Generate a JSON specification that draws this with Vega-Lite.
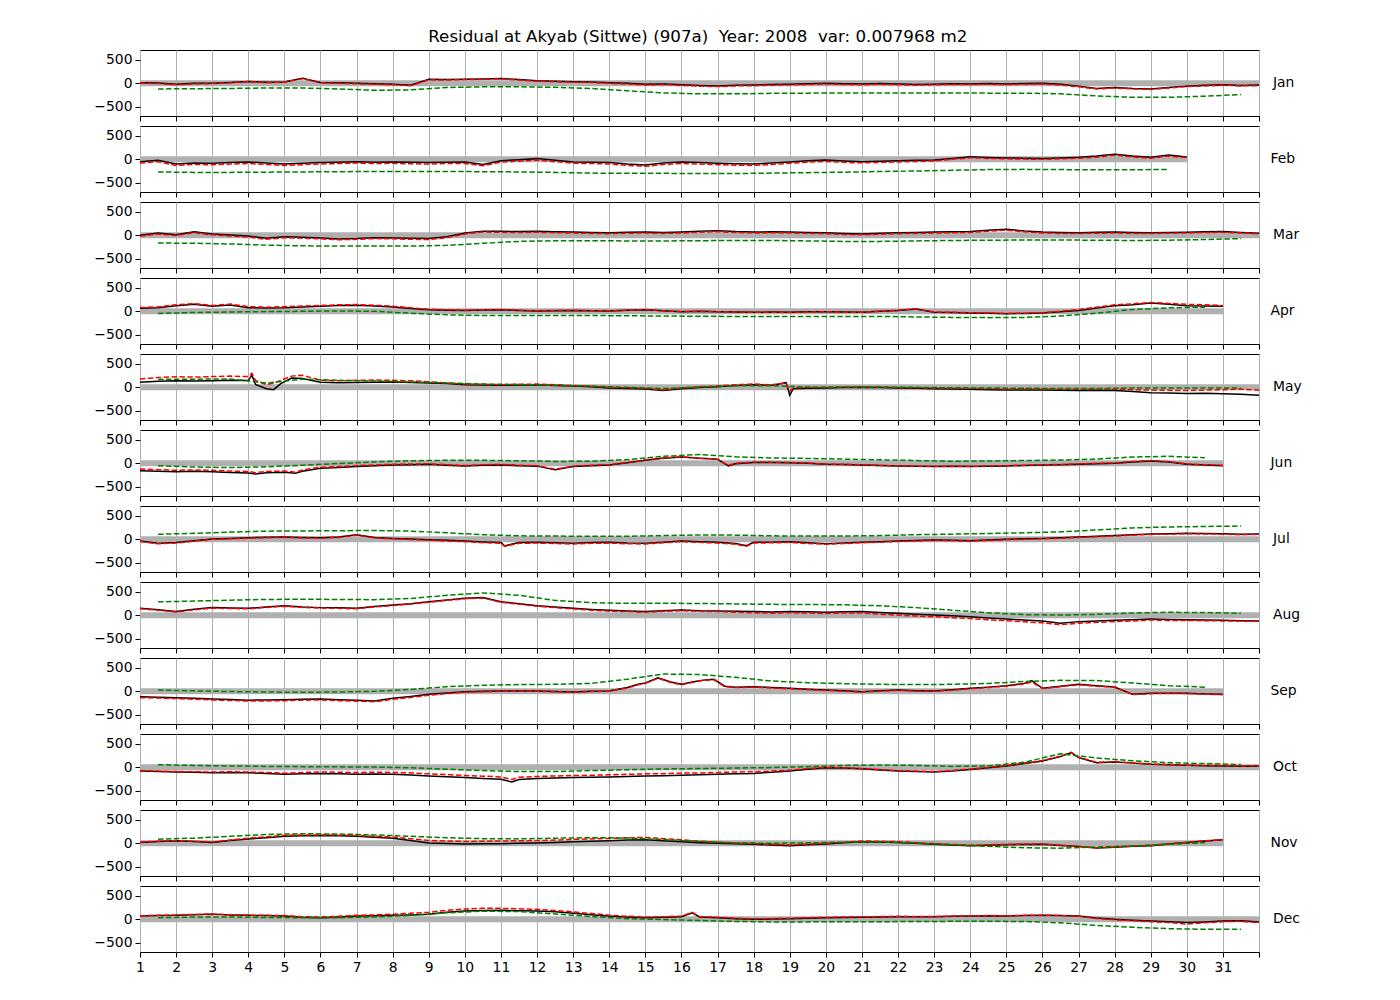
{
"$schema": "https://vega.github.io/schema/vega-lite/v6.json",
"padding": {"left": 93, "top": 28, "right": 5, "bottom": 5},
"background": "white",
"title": {"text": "Residual at Akyab (Sittwe) (907a) \u00a0Year: 2008 \u00a0var: 0.007968 m2", "fontSize": 16.7, "anchor": "middle", "offset": 4, "fontWeight": "normal", "color": "black"},
"config": {
  "font": "DejaVu Sans",
  "view": {"stroke": "black", "strokeWidth": 1},
  "title": {"font": "DejaVu Sans", "fontWeight": "normal", "color": "black"},
  "axis": {"labelFont": "DejaVu Sans", "labelFontSize": 13.9, "labelColor": "black", "tickColor": "black", "tickSize": 5, "labelPadding": 3, "domain": false, "title": null, "labelOverlap": false, "labelFlush": false},
  "axisX": {"grid": true, "gridColor": "#b0b0b0", "gridWidth": 1},
  "axisY": {"grid": false}
},
"datasets": {
"z": [{"m":1,"a":1,"b":32},{"m":2,"a":1,"b":30},{"m":3,"a":1,"b":32},{"m":4,"a":1,"b":31},{"m":5,"a":1,"b":32},{"m":6,"a":1,"b":31},{"m":7,"a":1,"b":32},{"m":8,"a":1,"b":32},{"m":9,"a":1,"b":31},{"m":10,"a":1,"b":32},{"m":11,"a":1,"b":31},{"m":12,"a":1,"b":32}],
"g": [
{"m":1,"x":1.5,"g":-120},{"m":1,"x":2.5,"g":-115},{"m":1,"x":3.5,"g":-110},{"m":1,"x":4.5,"g":-100},{"m":1,"x":5.5,"g":-100},{"m":1,"x":6.5,"g":-120},{"m":1,"x":7.5,"g":-150},{"m":1,"x":8.5,"g":-140},{"m":1,"x":9.5,"g":-90},{"m":1,"x":10.5,"g":-75},{"m":1,"x":11.5,"g":-75},{"m":1,"x":12.5,"g":-85},{"m":1,"x":13.5,"g":-110},{"m":1,"x":14.5,"g":-160},{"m":1,"x":15.5,"g":-205},{"m":1,"x":16.5,"g":-225},{"m":1,"x":17.5,"g":-225},{"m":1,"x":18.5,"g":-215},{"m":1,"x":19.5,"g":-210},{"m":1,"x":20.5,"g":-205},{"m":1,"x":21.5,"g":-205},{"m":1,"x":22.5,"g":-205},{"m":1,"x":23.5,"g":-205},{"m":1,"x":24.5,"g":-210},{"m":1,"x":25.5,"g":-210},{"m":1,"x":26.5,"g":-225},{"m":1,"x":27.5,"g":-270},{"m":1,"x":28.5,"g":-300},{"m":1,"x":29.5,"g":-300},{"m":1,"x":30.5,"g":-275},{"m":1,"x":31.5,"g":-240},
{"m":2,"x":1.5,"g":-270},{"m":2,"x":2.5,"g":-280},{"m":2,"x":3.5,"g":-280},{"m":2,"x":4.5,"g":-275},{"m":2,"x":5.5,"g":-270},{"m":2,"x":6.5,"g":-265},{"m":2,"x":7.5,"g":-260},{"m":2,"x":8.5,"g":-260},{"m":2,"x":9.5,"g":-260},{"m":2,"x":10.5,"g":-265},{"m":2,"x":11.5,"g":-270},{"m":2,"x":12.5,"g":-280},{"m":2,"x":13.5,"g":-295},{"m":2,"x":14.5,"g":-300},{"m":2,"x":15.5,"g":-300},{"m":2,"x":16.5,"g":-305},{"m":2,"x":17.5,"g":-305},{"m":2,"x":18.5,"g":-295},{"m":2,"x":19.5,"g":-285},{"m":2,"x":20.5,"g":-275},{"m":2,"x":21.5,"g":-260},{"m":2,"x":22.5,"g":-250},{"m":2,"x":23.5,"g":-235},{"m":2,"x":24.5,"g":-220},{"m":2,"x":25.5,"g":-215},{"m":2,"x":26.5,"g":-220},{"m":2,"x":27.5,"g":-225},{"m":2,"x":28.5,"g":-225},{"m":2,"x":29.5,"g":-215},
{"m":3,"x":1.5,"g":-165},{"m":3,"x":2.5,"g":-170},{"m":3,"x":3.5,"g":-185},{"m":3,"x":4.5,"g":-210},{"m":3,"x":5.5,"g":-225},{"m":3,"x":6.5,"g":-230},{"m":3,"x":7.5,"g":-230},{"m":3,"x":8.5,"g":-230},{"m":3,"x":9.5,"g":-215},{"m":3,"x":10.5,"g":-170},{"m":3,"x":11.5,"g":-130},{"m":3,"x":12.5,"g":-115},{"m":3,"x":13.5,"g":-115},{"m":3,"x":14.5,"g":-120},{"m":3,"x":15.5,"g":-120},{"m":3,"x":16.5,"g":-115},{"m":3,"x":17.5,"g":-110},{"m":3,"x":18.5,"g":-110},{"m":3,"x":19.5,"g":-120},{"m":3,"x":20.5,"g":-130},{"m":3,"x":21.5,"g":-130},{"m":3,"x":22.5,"g":-120},{"m":3,"x":23.5,"g":-110},{"m":3,"x":24.5,"g":-105},{"m":3,"x":25.5,"g":-100},{"m":3,"x":26.5,"g":-100},{"m":3,"x":27.5,"g":-105},{"m":3,"x":28.5,"g":-110},{"m":3,"x":29.5,"g":-105},{"m":3,"x":30.5,"g":-90},{"m":3,"x":31.5,"g":-70},
{"m":4,"x":1.5,"g":-45},{"m":4,"x":2.5,"g":-25},{"m":4,"x":3.5,"g":-15},{"m":4,"x":4.5,"g":-5},{"m":4,"x":5.5,"g":0},{"m":4,"x":6.5,"g":10},{"m":4,"x":7.5,"g":0},{"m":4,"x":8.5,"g":-40},{"m":4,"x":9.5,"g":-75},{"m":4,"x":10.5,"g":-90},{"m":4,"x":11.5,"g":-90},{"m":4,"x":12.5,"g":-90},{"m":4,"x":13.5,"g":-90},{"m":4,"x":14.5,"g":-95},{"m":4,"x":15.5,"g":-100},{"m":4,"x":16.5,"g":-105},{"m":4,"x":17.5,"g":-110},{"m":4,"x":18.5,"g":-110},{"m":4,"x":19.5,"g":-110},{"m":4,"x":20.5,"g":-110},{"m":4,"x":21.5,"g":-110},{"m":4,"x":22.5,"g":-120},{"m":4,"x":23.5,"g":-130},{"m":4,"x":24.5,"g":-135},{"m":4,"x":25.5,"g":-130},{"m":4,"x":26.5,"g":-100},{"m":4,"x":27.5,"g":-40},{"m":4,"x":28.5,"g":40},{"m":4,"x":29.5,"g":75},{"m":4,"x":30.5,"g":90},
{"m":5,"x":1.5,"g":170},{"m":5,"x":2.5,"g":175},{"m":5,"x":3.5,"g":180},{"m":5,"x":4.5,"g":90},{"m":5,"x":5.5,"g":175},{"m":5,"x":6.5,"g":150},{"m":5,"x":7.5,"g":135},{"m":5,"x":8.5,"g":115},{"m":5,"x":9.5,"g":95},{"m":5,"x":10.5,"g":70},{"m":5,"x":11.5,"g":60},{"m":5,"x":12.5,"g":45},{"m":5,"x":13.5,"g":25},{"m":5,"x":14.5,"g":0},{"m":5,"x":15.5,"g":-25},{"m":5,"x":16.5,"g":5},{"m":5,"x":17.5,"g":35},{"m":5,"x":18.5,"g":35},{"m":5,"x":19.5,"g":5},{"m":5,"x":20.5,"g":0},{"m":5,"x":21.5,"g":5},{"m":5,"x":22.5,"g":0},{"m":5,"x":23.5,"g":-10},{"m":5,"x":24.5,"g":-15},{"m":5,"x":25.5,"g":-20},{"m":5,"x":26.5,"g":-25},{"m":5,"x":27.5,"g":-25},{"m":5,"x":28.5,"g":-15},{"m":5,"x":29.5,"g":-15},{"m":5,"x":30.5,"g":-15},{"m":5,"x":31.5,"g":-15},
{"m":6,"x":1.5,"g":-50},{"m":6,"x":2.5,"g":-80},{"m":6,"x":3.5,"g":-90},{"m":6,"x":4.5,"g":-75},{"m":6,"x":5.5,"g":-40},{"m":6,"x":6.5,"g":-5},{"m":6,"x":7.5,"g":30},{"m":6,"x":8.5,"g":55},{"m":6,"x":9.5,"g":65},{"m":6,"x":10.5,"g":65},{"m":6,"x":11.5,"g":55},{"m":6,"x":12.5,"g":40},{"m":6,"x":13.5,"g":45},{"m":6,"x":14.5,"g":80},{"m":6,"x":15.5,"g":150},{"m":6,"x":16.5,"g":190},{"m":6,"x":17.5,"g":140},{"m":6,"x":18.5,"g":115},{"m":6,"x":19.5,"g":105},{"m":6,"x":20.5,"g":90},{"m":6,"x":21.5,"g":75},{"m":6,"x":22.5,"g":60},{"m":6,"x":23.5,"g":45},{"m":6,"x":24.5,"g":50},{"m":6,"x":25.5,"g":60},{"m":6,"x":26.5,"g":70},{"m":6,"x":27.5,"g":90},{"m":6,"x":28.5,"g":135},{"m":6,"x":29.5,"g":150},{"m":6,"x":30.5,"g":120},
{"m":7,"x":1.5,"g":107},{"m":7,"x":2.5,"g":130},{"m":7,"x":3.5,"g":155},{"m":7,"x":4.5,"g":175},{"m":7,"x":5.5,"g":180},{"m":7,"x":6.5,"g":185},{"m":7,"x":7.5,"g":190},{"m":7,"x":8.5,"g":175},{"m":7,"x":9.5,"g":140},{"m":7,"x":10.5,"g":100},{"m":7,"x":11.5,"g":75},{"m":7,"x":12.5,"g":70},{"m":7,"x":13.5,"g":65},{"m":7,"x":14.5,"g":65},{"m":7,"x":15.5,"g":80},{"m":7,"x":16.5,"g":95},{"m":7,"x":17.5,"g":90},{"m":7,"x":18.5,"g":75},{"m":7,"x":19.5,"g":70},{"m":7,"x":20.5,"g":70},{"m":7,"x":21.5,"g":80},{"m":7,"x":22.5,"g":100},{"m":7,"x":23.5,"g":110},{"m":7,"x":24.5,"g":125},{"m":7,"x":25.5,"g":140},{"m":7,"x":26.5,"g":160},{"m":7,"x":27.5,"g":200},{"m":7,"x":28.5,"g":245},{"m":7,"x":29.5,"g":265},{"m":7,"x":30.5,"g":275},{"m":7,"x":31.5,"g":285},
{"m":8,"x":1.5,"g":290},{"m":8,"x":2.5,"g":305},{"m":8,"x":3.5,"g":325},{"m":8,"x":4.5,"g":340},{"m":8,"x":5.5,"g":345},{"m":8,"x":6.5,"g":340},{"m":8,"x":7.5,"g":335},{"m":8,"x":8.5,"g":360},{"m":8,"x":9.5,"g":430},{"m":8,"x":10.5,"g":480},{"m":8,"x":11.5,"g":430},{"m":8,"x":12.5,"g":320},{"m":8,"x":13.5,"g":270},{"m":8,"x":14.5,"g":257},{"m":8,"x":15.5,"g":257},{"m":8,"x":16.5,"g":255},{"m":8,"x":17.5,"g":245},{"m":8,"x":18.5,"g":235},{"m":8,"x":19.5,"g":232},{"m":8,"x":20.5,"g":225},{"m":8,"x":21.5,"g":205},{"m":8,"x":22.5,"g":165},{"m":8,"x":23.5,"g":110},{"m":8,"x":24.5,"g":55},{"m":8,"x":25.5,"g":15},{"m":8,"x":26.5,"g":5},{"m":8,"x":27.5,"g":20},{"m":8,"x":28.5,"g":50},{"m":8,"x":29.5,"g":65},{"m":8,"x":30.5,"g":60},{"m":8,"x":31.5,"g":45},
{"m":9,"x":1.5,"g":28},{"m":9,"x":2.5,"g":10},{"m":9,"x":3.5,"g":-5},{"m":9,"x":4.5,"g":-15},{"m":9,"x":5.5,"g":-20},{"m":9,"x":6.5,"g":-15},{"m":9,"x":7.5,"g":0},{"m":9,"x":8.5,"g":40},{"m":9,"x":9.5,"g":100},{"m":9,"x":10.5,"g":130},{"m":9,"x":11.5,"g":145},{"m":9,"x":12.5,"g":150},{"m":9,"x":13.5,"g":170},{"m":9,"x":14.5,"g":260},{"m":9,"x":15.5,"g":370},{"m":9,"x":16.5,"g":360},{"m":9,"x":17.5,"g":300},{"m":9,"x":18.5,"g":220},{"m":9,"x":19.5,"g":185},{"m":9,"x":20.5,"g":165},{"m":9,"x":21.5,"g":150},{"m":9,"x":22.5,"g":145},{"m":9,"x":23.5,"g":150},{"m":9,"x":24.5,"g":170},{"m":9,"x":25.5,"g":210},{"m":9,"x":26.5,"g":235},{"m":9,"x":27.5,"g":230},{"m":9,"x":28.5,"g":180},{"m":9,"x":29.5,"g":120},{"m":9,"x":30.5,"g":90},
{"m":10,"x":1.5,"g":57},{"m":10,"x":2.5,"g":40},{"m":10,"x":3.5,"g":30},{"m":10,"x":4.5,"g":20},{"m":10,"x":5.5,"g":15},{"m":10,"x":6.5,"g":10},{"m":10,"x":7.5,"g":5},{"m":10,"x":8.5,"g":-10},{"m":10,"x":9.5,"g":-40},{"m":10,"x":10.5,"g":-70},{"m":10,"x":11.5,"g":-90},{"m":10,"x":12.5,"g":-90},{"m":10,"x":13.5,"g":-70},{"m":10,"x":14.5,"g":-50},{"m":10,"x":15.5,"g":-35},{"m":10,"x":16.5,"g":-25},{"m":10,"x":17.5,"g":-15},{"m":10,"x":18.5,"g":-5},{"m":10,"x":19.5,"g":15},{"m":10,"x":20.5,"g":40},{"m":10,"x":21.5,"g":50},{"m":10,"x":22.5,"g":40},{"m":10,"x":23.5,"g":20},{"m":10,"x":24.5,"g":30},{"m":10,"x":25.5,"g":110},{"m":10,"x":26.5,"g":290},{"m":10,"x":27.5,"g":200},{"m":10,"x":28.5,"g":140},{"m":10,"x":29.5,"g":100},{"m":10,"x":30.5,"g":80},{"m":10,"x":31.5,"g":60},
{"m":11,"x":1.5,"g":90},{"m":11,"x":2.5,"g":110},{"m":11,"x":3.5,"g":150},{"m":11,"x":4.5,"g":190},{"m":11,"x":5.5,"g":205},{"m":11,"x":6.5,"g":200},{"m":11,"x":7.5,"g":180},{"m":11,"x":8.5,"g":150},{"m":11,"x":9.5,"g":120},{"m":11,"x":10.5,"g":100},{"m":11,"x":11.5,"g":95},{"m":11,"x":12.5,"g":110},{"m":11,"x":13.5,"g":120},{"m":11,"x":14.5,"g":115},{"m":11,"x":15.5,"g":80},{"m":11,"x":16.5,"g":40},{"m":11,"x":17.5,"g":10},{"m":11,"x":18.5,"g":0},{"m":11,"x":19.5,"g":10},{"m":11,"x":20.5,"g":25},{"m":11,"x":21.5,"g":30},{"m":11,"x":22.5,"g":5},{"m":11,"x":23.5,"g":-30},{"m":11,"x":24.5,"g":-65},{"m":11,"x":25.5,"g":-95},{"m":11,"x":26.5,"g":-105},{"m":11,"x":27.5,"g":-80},{"m":11,"x":28.5,"g":-55},{"m":11,"x":29.5,"g":-20},{"m":11,"x":30.5,"g":15},
{"m":12,"x":1.5,"g":35},{"m":12,"x":2.5,"g":50},{"m":12,"x":3.5,"g":50},{"m":12,"x":4.5,"g":40},{"m":12,"x":5.5,"g":35},{"m":12,"x":6.5,"g":35},{"m":12,"x":7.5,"g":50},{"m":12,"x":8.5,"g":85},{"m":12,"x":9.5,"g":140},{"m":12,"x":10.5,"g":175},{"m":12,"x":11.5,"g":165},{"m":12,"x":12.5,"g":115},{"m":12,"x":13.5,"g":60},{"m":12,"x":14.5,"g":15},{"m":12,"x":15.5,"g":-5},{"m":12,"x":16.5,"g":-25},{"m":12,"x":17.5,"g":-45},{"m":12,"x":18.5,"g":-55},{"m":12,"x":19.5,"g":-55},{"m":12,"x":20.5,"g":-50},{"m":12,"x":21.5,"g":-50},{"m":12,"x":22.5,"g":-48},{"m":12,"x":23.5,"g":-43},{"m":12,"x":24.5,"g":-43},{"m":12,"x":25.5,"g":-45},{"m":12,"x":26.5,"g":-75},{"m":12,"x":27.5,"g":-130},{"m":12,"x":28.5,"g":-170},{"m":12,"x":29.5,"g":-200},{"m":12,"x":30.5,"g":-215},{"m":12,"x":31.5,"g":-215}
],
"o": [
{"m":1,"x":1,"k":15,"r":5},{"m":1,"x":1.5,"k":5,"r":-5},{"m":1,"x":2,"k":-20,"r":-30},{"m":1,"x":2.5,"k":0,"r":-15},{"m":1,"x":3,"k":0,"r":-5},{"m":1,"x":3.5,"k":20,"r":10},{"m":1,"x":4,"k":40,"r":35},{"m":1,"x":4.5,"k":25,"r":15},{"m":1,"x":5,"k":30,"r":25},{"m":1,"x":5.5,"k":110,"r":100},{"m":1,"x":6,"k":20,"r":10},{"m":1,"x":6.5,"k":10,"r":0},{"m":1,"x":7,"k":0,"r":-10},{"m":1,"x":7.5,"k":-10,"r":-20},{"m":1,"x":8,"k":-20,"r":-30},{"m":1,"x":8.5,"k":-40,"r":-50},{"m":1,"x":9,"k":85,"r":75},{"m":1,"x":9.5,"k":80,"r":70},{"m":1,"x":10,"k":85,"r":80},{"m":1,"x":10.5,"k":95,"r":85},{"m":1,"x":11,"k":105,"r":95},{"m":1,"x":11.5,"k":80,"r":70},{"m":1,"x":12,"k":55,"r":45},{"m":1,"x":12.5,"k":45,"r":35},{"m":1,"x":13,"k":35,"r":25},{"m":1,"x":13.5,"k":30,"r":20},{"m":1,"x":14,"k":15,"r":0},{"m":1,"x":14.5,"k":0,"r":-15},{"m":1,"x":15,"k":-20,"r":-35},{"m":1,"x":15.5,"k":-15,"r":-30},{"m":1,"x":16,"k":-30,"r":-45},{"m":1,"x":16.5,"k":-45,"r":-60},{"m":1,"x":17,"k":-55,"r":-70},{"m":1,"x":17.5,"k":-40,"r":-55},{"m":1,"x":18,"k":-35,"r":-50},{"m":1,"x":18.5,"k":-25,"r":-40},{"m":1,"x":19,"k":-20,"r":-35},{"m":1,"x":19.5,"k":-10,"r":-25},{"m":1,"x":20,"k":0,"r":-15},{"m":1,"x":20.5,"k":-10,"r":-25},{"m":1,"x":21,"k":-15,"r":-30},{"m":1,"x":21.5,"k":-5,"r":-20},{"m":1,"x":22,"k":-15,"r":-30},{"m":1,"x":22.5,"k":-25,"r":-40},{"m":1,"x":23,"k":-20,"r":-30},{"m":1,"x":23.5,"k":-10,"r":-25},{"m":1,"x":24,"k":-15,"r":-25},{"m":1,"x":24.5,"k":-5,"r":-20},{"m":1,"x":25,"k":-15,"r":-30},{"m":1,"x":25.5,"k":-5,"r":-20},{"m":1,"x":26,"k":0,"r":-15},{"m":1,"x":26.5,"k":-20,"r":-35},{"m":1,"x":27,"k":-60,"r":-75},{"m":1,"x":27.5,"k":-110,"r":-120},{"m":1,"x":28,"k":-90,"r":-100},{"m":1,"x":28.5,"k":-110,"r":-120},{"m":1,"x":29,"k":-120,"r":-130},{"m":1,"x":29.5,"k":-90,"r":-100},{"m":1,"x":30,"k":-60,"r":-70},{"m":1,"x":30.5,"k":-40,"r":-55},{"m":1,"x":31,"k":-30,"r":-40},{"m":1,"x":31.5,"k":-45,"r":-55},{"m":1,"x":32,"k":-35,"r":-50},
{"m":2,"x":1,"k":-50,"r":-80},{"m":2,"x":1.5,"k":-20,"r":-50},{"m":2,"x":2,"k":-100,"r":-130},{"m":2,"x":2.5,"k":-80,"r":-110},{"m":2,"x":3,"k":-85,"r":-115},{"m":2,"x":3.5,"k":-70,"r":-100},{"m":2,"x":4,"k":-57,"r":-90},{"m":2,"x":4.5,"k":-80,"r":-110},{"m":2,"x":5,"k":-100,"r":-130},{"m":2,"x":5.5,"k":-85,"r":-115},{"m":2,"x":6,"k":-70,"r":-100},{"m":2,"x":6.5,"k":-60,"r":-90},{"m":2,"x":7,"k":-50,"r":-80},{"m":2,"x":7.5,"k":-60,"r":-90},{"m":2,"x":8,"k":-57,"r":-85},{"m":2,"x":8.5,"k":-65,"r":-95},{"m":2,"x":9,"k":-70,"r":-100},{"m":2,"x":9.5,"k":-60,"r":-90},{"m":2,"x":10,"k":-57,"r":-90},{"m":2,"x":10.5,"k":-110,"r":-140},{"m":2,"x":11,"k":-30,"r":-60},{"m":2,"x":11.5,"k":-10,"r":-40},{"m":2,"x":12,"k":15,"r":-15},{"m":2,"x":12.5,"k":-20,"r":-50},{"m":2,"x":13,"k":-57,"r":-85},{"m":2,"x":13.5,"k":-60,"r":-90},{"m":2,"x":14,"k":-70,"r":-100},{"m":2,"x":14.5,"k":-100,"r":-130},{"m":2,"x":15,"k":-120,"r":-150},{"m":2,"x":15.5,"k":-80,"r":-110},{"m":2,"x":16,"k":-57,"r":-90},{"m":2,"x":16.5,"k":-70,"r":-100},{"m":2,"x":17,"k":-85,"r":-115},{"m":2,"x":17.5,"k":-95,"r":-125},{"m":2,"x":18,"k":-100,"r":-130},{"m":2,"x":18.5,"k":-80,"r":-110},{"m":2,"x":19,"k":-57,"r":-85},{"m":2,"x":19.5,"k":-30,"r":-60},{"m":2,"x":20,"k":-15,"r":-45},{"m":2,"x":20.5,"k":-35,"r":-65},{"m":2,"x":21,"k":-50,"r":-75},{"m":2,"x":21.5,"k":-40,"r":-65},{"m":2,"x":22,"k":-30,"r":-55},{"m":2,"x":22.5,"k":-20,"r":-45},{"m":2,"x":23,"k":-15,"r":-35},{"m":2,"x":23.5,"k":20,"r":0},{"m":2,"x":24,"k":57,"r":35},{"m":2,"x":24.5,"k":40,"r":20},{"m":2,"x":25,"k":28,"r":10},{"m":2,"x":25.5,"k":25,"r":5},{"m":2,"x":26,"k":20,"r":0},{"m":2,"x":26.5,"k":30,"r":10},{"m":2,"x":27,"k":43,"r":25},{"m":2,"x":27.5,"k":70,"r":45},{"m":2,"x":28,"k":110,"r":85},{"m":2,"x":28.5,"k":70,"r":50},{"m":2,"x":29,"k":43,"r":25},{"m":2,"x":29.5,"k":90,"r":70},{"m":2,"x":30,"k":50,"r":35},
{"m":3,"x":1,"k":0,"r":-20},{"m":3,"x":1.5,"k":50,"r":30},{"m":3,"x":2,"k":15,"r":-5},{"m":3,"x":2.5,"k":75,"r":55},{"m":3,"x":3,"k":28,"r":10},{"m":3,"x":3.5,"k":5,"r":-15},{"m":3,"x":4,"k":-15,"r":-35},{"m":3,"x":4.5,"k":-65,"r":-85},{"m":3,"x":5,"k":-28,"r":-50},{"m":3,"x":5.5,"k":-40,"r":-60},{"m":3,"x":6,"k":-57,"r":-75},{"m":3,"x":6.5,"k":-80,"r":-95},{"m":3,"x":7,"k":-70,"r":-85},{"m":3,"x":7.5,"k":-50,"r":-70},{"m":3,"x":8,"k":-57,"r":-75},{"m":3,"x":8.5,"k":-65,"r":-85},{"m":3,"x":9,"k":-70,"r":-90},{"m":3,"x":9.5,"k":-30,"r":-50},{"m":3,"x":10,"k":50,"r":30},{"m":3,"x":10.5,"k":90,"r":70},{"m":3,"x":11,"k":85,"r":65},{"m":3,"x":11.5,"k":80,"r":60},{"m":3,"x":12,"k":85,"r":65},{"m":3,"x":12.5,"k":75,"r":55},{"m":3,"x":13,"k":70,"r":50},{"m":3,"x":13.5,"k":60,"r":40},{"m":3,"x":14,"k":57,"r":35},{"m":3,"x":14.5,"k":65,"r":45},{"m":3,"x":15,"k":70,"r":50},{"m":3,"x":15.5,"k":60,"r":40},{"m":3,"x":16,"k":70,"r":50},{"m":3,"x":16.5,"k":85,"r":65},{"m":3,"x":17,"k":100,"r":80},{"m":3,"x":17.5,"k":80,"r":60},{"m":3,"x":18,"k":70,"r":50},{"m":3,"x":18.5,"k":75,"r":55},{"m":3,"x":19,"k":70,"r":50},{"m":3,"x":19.5,"k":60,"r":40},{"m":3,"x":20,"k":57,"r":35},{"m":3,"x":20.5,"k":40,"r":20},{"m":3,"x":21,"k":28,"r":10},{"m":3,"x":21.5,"k":45,"r":25},{"m":3,"x":22,"k":57,"r":35},{"m":3,"x":22.5,"k":60,"r":40},{"m":3,"x":23,"k":70,"r":50},{"m":3,"x":23.5,"k":75,"r":55},{"m":3,"x":24,"k":80,"r":60},{"m":3,"x":24.5,"k":110,"r":90},{"m":3,"x":25,"k":130,"r":110},{"m":3,"x":25.5,"k":95,"r":75},{"m":3,"x":26,"k":70,"r":50},{"m":3,"x":26.5,"k":60,"r":40},{"m":3,"x":27,"k":57,"r":40},{"m":3,"x":27.5,"k":65,"r":45},{"m":3,"x":28,"k":70,"r":50},{"m":3,"x":28.5,"k":60,"r":40},{"m":3,"x":29,"k":57,"r":40},{"m":3,"x":29.5,"k":60,"r":45},{"m":3,"x":30,"k":65,"r":50},{"m":3,"x":30.5,"k":75,"r":60},{"m":3,"x":31,"k":80,"r":65},{"m":3,"x":31.5,"k":60,"r":50},{"m":3,"x":32,"k":43,"r":35},
{"m":4,"x":1,"k":64,"r":80},{"m":4,"x":1.5,"k":78,"r":95},{"m":4,"x":2,"k":120,"r":140},{"m":4,"x":2.5,"k":150,"r":165},{"m":4,"x":3,"k":107,"r":125},{"m":4,"x":3.5,"k":135,"r":155},{"m":4,"x":4,"k":78,"r":100},{"m":4,"x":4.5,"k":70,"r":90},{"m":4,"x":5,"k":78,"r":100},{"m":4,"x":5.5,"k":95,"r":115},{"m":4,"x":6,"k":107,"r":125},{"m":4,"x":6.5,"k":125,"r":140},{"m":4,"x":7,"k":130,"r":145},{"m":4,"x":7.5,"k":115,"r":130},{"m":4,"x":8,"k":93,"r":110},{"m":4,"x":8.5,"k":60,"r":75},{"m":4,"x":9,"k":35,"r":45},{"m":4,"x":9.5,"k":25,"r":35},{"m":4,"x":10,"k":20,"r":25},{"m":4,"x":10.5,"k":30,"r":35},{"m":4,"x":11,"k":35,"r":40},{"m":4,"x":11.5,"k":20,"r":25},{"m":4,"x":12,"k":7,"r":10},{"m":4,"x":12.5,"k":15,"r":20},{"m":4,"x":13,"k":20,"r":25},{"m":4,"x":13.5,"k":10,"r":15},{"m":4,"x":14,"k":7,"r":10},{"m":4,"x":14.5,"k":25,"r":25},{"m":4,"x":15,"k":35,"r":40},{"m":4,"x":15.5,"k":10,"r":10},{"m":4,"x":16,"k":-7,"r":-5},{"m":4,"x":16.5,"k":0,"r":0},{"m":4,"x":17,"k":-7,"r":-10},{"m":4,"x":17.5,"k":-15,"r":-15},{"m":4,"x":18,"k":-20,"r":-20},{"m":4,"x":18.5,"k":-15,"r":-20},{"m":4,"x":19,"k":-20,"r":-25},{"m":4,"x":19.5,"k":-10,"r":-15},{"m":4,"x":20,"k":-7,"r":-10},{"m":4,"x":20.5,"k":-15,"r":-20},{"m":4,"x":21,"k":-20,"r":-20},{"m":4,"x":21.5,"k":0,"r":0},{"m":4,"x":22,"k":20,"r":25},{"m":4,"x":22.5,"k":50,"r":55},{"m":4,"x":23,"k":-20,"r":-15},{"m":4,"x":23.5,"k":-25,"r":-20},{"m":4,"x":24,"k":-35,"r":-30},{"m":4,"x":24.5,"k":-40,"r":-35},{"m":4,"x":25,"k":-50,"r":-45},{"m":4,"x":25.5,"k":-45,"r":-40},{"m":4,"x":26,"k":-35,"r":-30},{"m":4,"x":26.5,"k":-10,"r":0},{"m":4,"x":27,"k":20,"r":40},{"m":4,"x":27.5,"k":70,"r":90},{"m":4,"x":28,"k":120,"r":140},{"m":4,"x":28.5,"k":140,"r":160},{"m":4,"x":29,"k":180,"r":190},{"m":4,"x":29.5,"k":150,"r":170},{"m":4,"x":30,"k":120,"r":150},{"m":4,"x":30.5,"k":115,"r":140},{"m":4,"x":31,"k":107,"r":125},
{"m":5,"x":1,"k":110,"r":180},{"m":5,"x":1.5,"k":130,"r":210},{"m":5,"x":2,"k":140,"r":225},{"m":5,"x":2.5,"k":135,"r":220},{"m":5,"x":3,"k":140,"r":230},{"m":5,"x":3.5,"k":150,"r":240},{"m":5,"x":4,"k":145,"r":230},{"m":5,"x":4.1,"k":260,"r":300},{"m":5,"x":4.2,"k":60,"r":150},{"m":5,"x":4.5,"k":-30,"r":60},{"m":5,"x":4.7,"k":-50,"r":90},{"m":5,"x":4.9,"k":80,"r":150},{"m":5,"x":5.2,"k":200,"r":240},{"m":5,"x":5.5,"k":190,"r":260},{"m":5,"x":6,"k":110,"r":150},{"m":5,"x":6.5,"k":100,"r":140},{"m":5,"x":7,"k":105,"r":150},{"m":5,"x":7.5,"k":110,"r":155},{"m":5,"x":8,"k":115,"r":150},{"m":5,"x":8.5,"k":105,"r":140},{"m":5,"x":9,"k":95,"r":120},{"m":5,"x":9.5,"k":80,"r":95},{"m":5,"x":10,"k":57,"r":70},{"m":5,"x":10.5,"k":50,"r":65},{"m":5,"x":11,"k":43,"r":55},{"m":5,"x":11.5,"k":50,"r":65},{"m":5,"x":12,"k":57,"r":70},{"m":5,"x":12.5,"k":40,"r":55},{"m":5,"x":13,"k":28,"r":40},{"m":5,"x":13.5,"k":10,"r":25},{"m":5,"x":14,"k":-15,"r":0},{"m":5,"x":14.5,"k":-25,"r":-10},{"m":5,"x":15,"k":-35,"r":-20},{"m":5,"x":15.5,"k":-70,"r":-55},{"m":5,"x":16,"k":-28,"r":-15},{"m":5,"x":16.5,"k":-5,"r":10},{"m":5,"x":17,"k":15,"r":30},{"m":5,"x":17.5,"k":40,"r":55},{"m":5,"x":18,"k":57,"r":70},{"m":5,"x":18.5,"k":43,"r":55},{"m":5,"x":18.9,"k":100,"r":90},{"m":5,"x":19,"k":-170,"r":-80},{"m":5,"x":19.1,"k":-30,"r":-10},{"m":5,"x":19.5,"k":-20,"r":-5},{"m":5,"x":20,"k":-15,"r":0},{"m":5,"x":20.5,"k":-5,"r":10},{"m":5,"x":21,"k":0,"r":10},{"m":5,"x":21.5,"k":-5,"r":5},{"m":5,"x":22,"k":-15,"r":-5},{"m":5,"x":22.5,"k":-20,"r":-10},{"m":5,"x":23,"k":-28,"r":-15},{"m":5,"x":23.5,"k":-35,"r":-20},{"m":5,"x":24,"k":-43,"r":-25},{"m":5,"x":24.5,"k":-50,"r":-30},{"m":5,"x":25,"k":-57,"r":-35},{"m":5,"x":25.5,"k":-55,"r":-30},{"m":5,"x":26,"k":-57,"r":-35},{"m":5,"x":26.5,"k":-65,"r":-40},{"m":5,"x":27,"k":-70,"r":-40},{"m":5,"x":27.5,"k":-65,"r":-35},{"m":5,"x":28,"k":-70,"r":-40},{"m":5,"x":28.5,"k":-90,"r":-50},{"m":5,"x":29,"k":-115,"r":-60},{"m":5,"x":29.5,"k":-120,"r":-65},{"m":5,"x":30,"k":-130,"r":-70},{"m":5,"x":30.5,"k":-125,"r":-60},{"m":5,"x":31,"k":-140,"r":-50},{"m":5,"x":31.5,"k":-150,"r":-40},{"m":5,"x":32,"k":-170,"r":-60},
{"m":6,"x":1,"k":-157,"r":-120},{"m":6,"x":1.5,"k":-170,"r":-135},{"m":6,"x":2,"k":-180,"r":-150},{"m":6,"x":2.5,"k":-170,"r":-140},{"m":6,"x":3,"k":-180,"r":-150},{"m":6,"x":3.5,"k":-195,"r":-165},{"m":6,"x":4,"k":-205,"r":-175},{"m":6,"x":4.2,"k":-230,"r":-200},{"m":6,"x":4.5,"k":-200,"r":-175},{"m":6,"x":5,"k":-190,"r":-165},{"m":6,"x":5.3,"k":-215,"r":-190},{"m":6,"x":5.5,"k":-170,"r":-140},{"m":6,"x":6,"k":-107,"r":-85},{"m":6,"x":6.5,"k":-90,"r":-70},{"m":6,"x":7,"k":-70,"r":-50},{"m":6,"x":7.5,"k":-50,"r":-35},{"m":6,"x":8,"k":-35,"r":-20},{"m":6,"x":8.5,"k":-30,"r":-15},{"m":6,"x":9,"k":-20,"r":-10},{"m":6,"x":9.5,"k":-40,"r":-30},{"m":6,"x":10,"k":-55,"r":-45},{"m":6,"x":10.5,"k":-40,"r":-30},{"m":6,"x":11,"k":-35,"r":-25},{"m":6,"x":11.5,"k":-50,"r":-40},{"m":6,"x":12,"k":-60,"r":-50},{"m":6,"x":12.5,"k":-140,"r":-125},{"m":6,"x":13,"k":-70,"r":-60},{"m":6,"x":13.5,"k":-50,"r":-40},{"m":6,"x":14,"k":-35,"r":-25},{"m":6,"x":14.5,"k":10,"r":20},{"m":6,"x":15,"k":65,"r":75},{"m":6,"x":15.5,"k":110,"r":115},{"m":6,"x":16,"k":135,"r":140},{"m":6,"x":16.5,"k":107,"r":110},{"m":6,"x":17,"k":85,"r":90},{"m":6,"x":17.3,"k":-55,"r":-45},{"m":6,"x":17.5,"k":-10,"r":0},{"m":6,"x":18,"k":20,"r":30},{"m":6,"x":18.5,"k":20,"r":25},{"m":6,"x":19,"k":15,"r":20},{"m":6,"x":19.5,"k":0,"r":5},{"m":6,"x":20,"k":-20,"r":-15},{"m":6,"x":20.5,"k":-25,"r":-20},{"m":6,"x":21,"k":-35,"r":-30},{"m":6,"x":21.5,"k":-45,"r":-45},{"m":6,"x":22,"k":-55,"r":-55},{"m":6,"x":22.5,"k":-60,"r":-60},{"m":6,"x":23,"k":-70,"r":-65},{"m":6,"x":23.5,"k":-65,"r":-60},{"m":6,"x":24,"k":-70,"r":-65},{"m":6,"x":24.5,"k":-60,"r":-55},{"m":6,"x":25,"k":-55,"r":-50},{"m":6,"x":25.5,"k":-45,"r":-40},{"m":6,"x":26,"k":-35,"r":-30},{"m":6,"x":26.5,"k":-30,"r":-25},{"m":6,"x":27,"k":-20,"r":-10},{"m":6,"x":27.5,"k":-10,"r":0},{"m":6,"x":28,"k":0,"r":10},{"m":6,"x":28.5,"k":30,"r":40},{"m":6,"x":29,"k":50,"r":60},{"m":6,"x":29.5,"k":30,"r":40},{"m":6,"x":30,"k":-20,"r":-10},{"m":6,"x":30.5,"k":-35,"r":-30},{"m":6,"x":31,"k":-50,"r":-40},
{"m":7,"x":1,"k":-35,"r":-45},{"m":7,"x":1.5,"k":-85,"r":-95},{"m":7,"x":2,"k":-70,"r":-80},{"m":7,"x":2.5,"k":-30,"r":-40},{"m":7,"x":3,"k":7,"r":0},{"m":7,"x":3.5,"k":20,"r":10},{"m":7,"x":4,"k":35,"r":25},{"m":7,"x":4.5,"k":45,"r":35},{"m":7,"x":5,"k":50,"r":40},{"m":7,"x":5.5,"k":40,"r":30},{"m":7,"x":6,"k":35,"r":25},{"m":7,"x":6.5,"k":50,"r":40},{"m":7,"x":7,"k":100,"r":90},{"m":7,"x":7.5,"k":40,"r":30},{"m":7,"x":8,"k":20,"r":10},{"m":7,"x":8.5,"k":5,"r":-5},{"m":7,"x":9,"k":-7,"r":-20},{"m":7,"x":9.5,"k":-20,"r":-35},{"m":7,"x":10,"k":-35,"r":-50},{"m":7,"x":10.5,"k":-55,"r":-70},{"m":7,"x":11,"k":-70,"r":-85},{"m":7,"x":11.1,"k":-140,"r":-150},{"m":7,"x":11.5,"k":-70,"r":-85},{"m":7,"x":12,"k":-65,"r":-80},{"m":7,"x":12.5,"k":-75,"r":-90},{"m":7,"x":13,"k":-85,"r":-100},{"m":7,"x":13.5,"k":-70,"r":-85},{"m":7,"x":14,"k":-65,"r":-80},{"m":7,"x":14.5,"k":-80,"r":-95},{"m":7,"x":15,"k":-85,"r":-100},{"m":7,"x":15.5,"k":-60,"r":-75},{"m":7,"x":16,"k":-35,"r":-50},{"m":7,"x":16.5,"k":-50,"r":-65},{"m":7,"x":17,"k":-65,"r":-80},{"m":7,"x":17.5,"k":-90,"r":-105},{"m":7,"x":17.8,"k":-135,"r":-150},{"m":7,"x":18,"k":-65,"r":-80},{"m":7,"x":18.5,"k":-60,"r":-75},{"m":7,"x":19,"k":-50,"r":-65},{"m":7,"x":19.5,"k":-75,"r":-90},{"m":7,"x":20,"k":-95,"r":-105},{"m":7,"x":20.5,"k":-80,"r":-90},{"m":7,"x":21,"k":-65,"r":-75},{"m":7,"x":21.5,"k":-50,"r":-60},{"m":7,"x":22,"k":-35,"r":-45},{"m":7,"x":22.5,"k":-25,"r":-35},{"m":7,"x":23,"k":-15,"r":-25},{"m":7,"x":23.5,"k":-20,"r":-30},{"m":7,"x":24,"k":-30,"r":-40},{"m":7,"x":24.5,"k":-15,"r":-25},{"m":7,"x":25,"k":0,"r":-10},{"m":7,"x":25.5,"k":10,"r":0},{"m":7,"x":26,"k":20,"r":10},{"m":7,"x":26.5,"k":35,"r":25},{"m":7,"x":27,"k":50,"r":40},{"m":7,"x":27.5,"k":65,"r":55},{"m":7,"x":28,"k":80,"r":70},{"m":7,"x":28.5,"k":100,"r":90},{"m":7,"x":29,"k":115,"r":105},{"m":7,"x":29.5,"k":120,"r":110},{"m":7,"x":30,"k":130,"r":120},{"m":7,"x":30.5,"k":125,"r":115},{"m":7,"x":31,"k":120,"r":110},{"m":7,"x":31.5,"k":110,"r":100},{"m":7,"x":32,"k":115,"r":105},
{"m":8,"x":1,"k":150,"r":140},{"m":8,"x":1.5,"k":120,"r":110},{"m":8,"x":2,"k":80,"r":70},{"m":8,"x":2.5,"k":130,"r":120},{"m":8,"x":3,"k":165,"r":155},{"m":8,"x":3.5,"k":155,"r":145},{"m":8,"x":4,"k":150,"r":140},{"m":8,"x":4.5,"k":180,"r":170},{"m":8,"x":5,"k":207,"r":195},{"m":8,"x":5.5,"k":180,"r":170},{"m":8,"x":6,"k":165,"r":155},{"m":8,"x":6.5,"k":160,"r":150},{"m":8,"x":7,"k":150,"r":140},{"m":8,"x":7.5,"k":190,"r":180},{"m":8,"x":8,"k":220,"r":210},{"m":8,"x":8.5,"k":250,"r":240},{"m":8,"x":9,"k":290,"r":280},{"m":8,"x":9.5,"k":330,"r":320},{"m":8,"x":10,"k":365,"r":355},{"m":8,"x":10.5,"k":380,"r":370},{"m":8,"x":11,"k":290,"r":280},{"m":8,"x":11.5,"k":250,"r":240},{"m":8,"x":12,"k":207,"r":195},{"m":8,"x":12.5,"k":180,"r":165},{"m":8,"x":13,"k":150,"r":135},{"m":8,"x":13.5,"k":125,"r":110},{"m":8,"x":14,"k":107,"r":90},{"m":8,"x":14.5,"k":95,"r":80},{"m":8,"x":15,"k":80,"r":65},{"m":8,"x":15.5,"k":100,"r":85},{"m":8,"x":16,"k":115,"r":100},{"m":8,"x":16.5,"k":100,"r":85},{"m":8,"x":17,"k":95,"r":80},{"m":8,"x":17.5,"k":85,"r":65},{"m":8,"x":18,"k":80,"r":55},{"m":8,"x":18.5,"k":70,"r":45},{"m":8,"x":19,"k":80,"r":55},{"m":8,"x":19.5,"k":75,"r":50},{"m":8,"x":20,"k":65,"r":40},{"m":8,"x":20.5,"k":75,"r":50},{"m":8,"x":21,"k":80,"r":50},{"m":8,"x":21.5,"k":60,"r":25},{"m":8,"x":22,"k":43,"r":5},{"m":8,"x":22.5,"k":25,"r":-15},{"m":8,"x":23,"k":7,"r":-30},{"m":8,"x":23.5,"k":-10,"r":-50},{"m":8,"x":24,"k":-30,"r":-70},{"m":8,"x":24.5,"k":-55,"r":-95},{"m":8,"x":25,"k":-80,"r":-115},{"m":8,"x":25.5,"k":-100,"r":-140},{"m":8,"x":26,"k":-120,"r":-160},{"m":8,"x":26.5,"k":-170,"r":-200},{"m":8,"x":27,"k":-135,"r":-170},{"m":8,"x":27.5,"k":-120,"r":-150},{"m":8,"x":28,"k":-107,"r":-135},{"m":8,"x":28.5,"k":-95,"r":-120},{"m":8,"x":29,"k":-80,"r":-100},{"m":8,"x":29.5,"k":-90,"r":-110},{"m":8,"x":30,"k":-95,"r":-110},{"m":8,"x":30.5,"k":-100,"r":-115},{"m":8,"x":31,"k":-107,"r":-120},{"m":8,"x":31.5,"k":-115,"r":-125},{"m":8,"x":32,"k":-120,"r":-130},
{"m":9,"x":1,"k":-115,"r":-135},{"m":9,"x":1.5,"k":-125,"r":-145},{"m":9,"x":2,"k":-135,"r":-155},{"m":9,"x":2.5,"k":-150,"r":-170},{"m":9,"x":3,"k":-165,"r":-185},{"m":9,"x":3.5,"k":-175,"r":-195},{"m":9,"x":4,"k":-190,"r":-210},{"m":9,"x":4.5,"k":-185,"r":-205},{"m":9,"x":5,"k":-180,"r":-200},{"m":9,"x":5.5,"k":-170,"r":-190},{"m":9,"x":6,"k":-165,"r":-185},{"m":9,"x":6.5,"k":-180,"r":-200},{"m":9,"x":7,"k":-190,"r":-210},{"m":9,"x":7.5,"k":-205,"r":-225},{"m":9,"x":8,"k":-150,"r":-170},{"m":9,"x":8.5,"k":-110,"r":-130},{"m":9,"x":9,"k":-65,"r":-85},{"m":9,"x":9.5,"k":-35,"r":-50},{"m":9,"x":10,"k":-7,"r":-20},{"m":9,"x":10.5,"k":0,"r":-10},{"m":9,"x":11,"k":7,"r":0},{"m":9,"x":11.5,"k":5,"r":0},{"m":9,"x":12,"k":7,"r":0},{"m":9,"x":12.5,"k":-5,"r":-10},{"m":9,"x":13,"k":-15,"r":-20},{"m":9,"x":13.5,"k":0,"r":-5},{"m":9,"x":14,"k":7,"r":5},{"m":9,"x":14.5,"k":80,"r":70},{"m":9,"x":14.8,"k":150,"r":140},{"m":9,"x":15,"k":180,"r":170},{"m":9,"x":15.35,"k":290,"r":280},{"m":9,"x":15.7,"k":200,"r":190},{"m":9,"x":16,"k":150,"r":140},{"m":9,"x":16.3,"k":200,"r":190},{"m":9,"x":16.6,"k":240,"r":235},{"m":9,"x":16.9,"k":257,"r":250},{"m":9,"x":17.2,"k":110,"r":100},{"m":9,"x":17.5,"k":90,"r":80},{"m":9,"x":18,"k":100,"r":90},{"m":9,"x":18.5,"k":80,"r":70},{"m":9,"x":19,"k":65,"r":55},{"m":9,"x":19.5,"k":45,"r":35},{"m":9,"x":20,"k":28,"r":20},{"m":9,"x":20.5,"k":10,"r":0},{"m":9,"x":21,"k":-7,"r":-15},{"m":9,"x":21.5,"k":10,"r":0},{"m":9,"x":22,"k":28,"r":20},{"m":9,"x":22.5,"k":15,"r":5},{"m":9,"x":23,"k":7,"r":0},{"m":9,"x":23.5,"k":35,"r":25},{"m":9,"x":24,"k":65,"r":55},{"m":9,"x":24.5,"k":90,"r":80},{"m":9,"x":25,"k":120,"r":110},{"m":9,"x":25.5,"k":170,"r":160},{"m":9,"x":25.7,"k":230,"r":200},{"m":9,"x":26,"k":65,"r":60},{"m":9,"x":26.5,"k":110,"r":100},{"m":9,"x":27,"k":150,"r":140},{"m":9,"x":27.5,"k":120,"r":110},{"m":9,"x":28,"k":93,"r":85},{"m":9,"x":28.5,"k":-65,"r":-70},{"m":9,"x":29,"k":-43,"r":-50},{"m":9,"x":29.5,"k":-40,"r":-45},{"m":9,"x":30,"k":-43,"r":-50},{"m":9,"x":30.5,"k":-55,"r":-60},{"m":9,"x":31,"k":-65,"r":-75},
{"m":10,"x":1,"k":-80,"r":-70},{"m":10,"x":1.5,"k":-90,"r":-80},{"m":10,"x":2,"k":-100,"r":-90},{"m":10,"x":2.5,"k":-105,"r":-95},{"m":10,"x":3,"k":-115,"r":-100},{"m":10,"x":3.5,"k":-110,"r":-95},{"m":10,"x":4,"k":-115,"r":-100},{"m":10,"x":4.5,"k":-130,"r":-110},{"m":10,"x":5,"k":-150,"r":-125},{"m":10,"x":5.5,"k":-140,"r":-110},{"m":10,"x":6,"k":-130,"r":-100},{"m":10,"x":6.5,"k":-140,"r":-105},{"m":10,"x":7,"k":-150,"r":-110},{"m":10,"x":7.5,"k":-145,"r":-105},{"m":10,"x":8,"k":-150,"r":-110},{"m":10,"x":8.5,"k":-165,"r":-120},{"m":10,"x":9,"k":-185,"r":-140},{"m":10,"x":9.5,"k":-200,"r":-155},{"m":10,"x":10,"k":-220,"r":-175},{"m":10,"x":10.5,"k":-240,"r":-190},{"m":10,"x":11,"k":-255,"r":-205},{"m":10,"x":11.3,"k":-315,"r":-260},{"m":10,"x":11.5,"k":-260,"r":-215},{"m":10,"x":12,"k":-240,"r":-195},{"m":10,"x":12.5,"k":-230,"r":-185},{"m":10,"x":13,"k":-220,"r":-175},{"m":10,"x":13.5,"k":-215,"r":-170},{"m":10,"x":14,"k":-205,"r":-160},{"m":10,"x":14.5,"k":-195,"r":-150},{"m":10,"x":15,"k":-185,"r":-140},{"m":10,"x":15.5,"k":-180,"r":-135},{"m":10,"x":16,"k":-170,"r":-125},{"m":10,"x":16.5,"k":-160,"r":-120},{"m":10,"x":17,"k":-150,"r":-110},{"m":10,"x":17.5,"k":-140,"r":-100},{"m":10,"x":18,"k":-130,"r":-95},{"m":10,"x":18.5,"k":-105,"r":-80},{"m":10,"x":19,"k":-80,"r":-60},{"m":10,"x":19.5,"k":-40,"r":-25},{"m":10,"x":20,"k":-7,"r":0},{"m":10,"x":20.5,"k":-15,"r":-10},{"m":10,"x":21,"k":-30,"r":-25},{"m":10,"x":21.5,"k":-55,"r":-50},{"m":10,"x":22,"k":-80,"r":-70},{"m":10,"x":22.5,"k":-90,"r":-80},{"m":10,"x":23,"k":-100,"r":-90},{"m":10,"x":23.5,"k":-80,"r":-70},{"m":10,"x":24,"k":-45,"r":-35},{"m":10,"x":24.5,"k":-10,"r":0},{"m":10,"x":25,"k":30,"r":40},{"m":10,"x":25.5,"k":80,"r":90},{"m":10,"x":26,"k":135,"r":145},{"m":10,"x":26.5,"k":230,"r":240},{"m":10,"x":26.8,"k":315,"r":320},{"m":10,"x":27,"k":207,"r":215},{"m":10,"x":27.5,"k":100,"r":110},{"m":10,"x":28,"k":115,"r":120},{"m":10,"x":28.5,"k":90,"r":95},{"m":10,"x":29,"k":65,"r":70},{"m":10,"x":29.5,"k":55,"r":60},{"m":10,"x":30,"k":43,"r":45},{"m":10,"x":30.5,"k":35,"r":40},{"m":10,"x":31,"k":30,"r":35},{"m":10,"x":31.5,"k":25,"r":30},{"m":10,"x":32,"k":30,"r":35},
{"m":11,"x":1,"k":20,"r":30},{"m":11,"x":1.5,"k":40,"r":45},{"m":11,"x":2,"k":57,"r":60},{"m":11,"x":2.5,"k":40,"r":45},{"m":11,"x":3,"k":20,"r":30},{"m":11,"x":3.5,"k":60,"r":70},{"m":11,"x":4,"k":93,"r":110},{"m":11,"x":4.5,"k":120,"r":140},{"m":11,"x":5,"k":150,"r":170},{"m":11,"x":5.5,"k":160,"r":180},{"m":11,"x":6,"k":165,"r":180},{"m":11,"x":6.5,"k":160,"r":175},{"m":11,"x":7,"k":150,"r":165},{"m":11,"x":7.5,"k":130,"r":150},{"m":11,"x":8,"k":107,"r":135},{"m":11,"x":8.5,"k":60,"r":100},{"m":11,"x":9,"k":7,"r":60},{"m":11,"x":9.5,"k":-5,"r":50},{"m":11,"x":10,"k":-15,"r":40},{"m":11,"x":10.5,"k":-10,"r":45},{"m":11,"x":11,"k":-7,"r":50},{"m":11,"x":11.5,"k":0,"r":55},{"m":11,"x":12,"k":7,"r":60},{"m":11,"x":12.5,"k":20,"r":70},{"m":11,"x":13,"k":35,"r":85},{"m":11,"x":13.5,"k":45,"r":95},{"m":11,"x":14,"k":57,"r":105},{"m":11,"x":14.5,"k":70,"r":120},{"m":11,"x":15,"k":78,"r":125},{"m":11,"x":15.5,"k":55,"r":100},{"m":11,"x":16,"k":35,"r":75},{"m":11,"x":16.5,"k":15,"r":45},{"m":11,"x":17,"k":0,"r":25},{"m":11,"x":17.5,"k":-10,"r":5},{"m":11,"x":18,"k":-20,"r":-5},{"m":11,"x":18.5,"k":-35,"r":-20},{"m":11,"x":19,"k":-50,"r":-35},{"m":11,"x":19.5,"k":-30,"r":-15},{"m":11,"x":20,"k":-15,"r":0},{"m":11,"x":20.5,"k":10,"r":25},{"m":11,"x":21,"k":35,"r":50},{"m":11,"x":21.5,"k":30,"r":45},{"m":11,"x":22,"k":20,"r":35},{"m":11,"x":22.5,"k":0,"r":15},{"m":11,"x":23,"k":-20,"r":-5},{"m":11,"x":23.5,"k":-35,"r":-25},{"m":11,"x":24,"k":-50,"r":-40},{"m":11,"x":24.5,"k":-40,"r":-30},{"m":11,"x":25,"k":-30,"r":-20},{"m":11,"x":25.5,"k":-25,"r":-15},{"m":11,"x":26,"k":-20,"r":-15},{"m":11,"x":26.5,"k":-45,"r":-40},{"m":11,"x":27,"k":-70,"r":-65},{"m":11,"x":27.5,"k":-100,"r":-95},{"m":11,"x":28,"k":-85,"r":-80},{"m":11,"x":28.5,"k":-65,"r":-60},{"m":11,"x":29,"k":-50,"r":-45},{"m":11,"x":29.5,"k":-15,"r":-10},{"m":11,"x":30,"k":20,"r":25},{"m":11,"x":30.5,"k":50,"r":55},{"m":11,"x":31,"k":78,"r":80},
{"m":12,"x":1,"k":70,"r":75},{"m":12,"x":1.5,"k":80,"r":85},{"m":12,"x":2,"k":85,"r":95},{"m":12,"x":2.5,"k":100,"r":105},{"m":12,"x":3,"k":107,"r":115},{"m":12,"x":3.5,"k":95,"r":100},{"m":12,"x":4,"k":85,"r":90},{"m":12,"x":4.5,"k":80,"r":85},{"m":12,"x":5,"k":70,"r":80},{"m":12,"x":5.5,"k":45,"r":55},{"m":12,"x":6,"k":35,"r":50},{"m":12,"x":6.5,"k":50,"r":65},{"m":12,"x":7,"k":70,"r":85},{"m":12,"x":7.5,"k":75,"r":95},{"m":12,"x":8,"k":85,"r":110},{"m":12,"x":8.5,"k":95,"r":130},{"m":12,"x":9,"k":107,"r":150},{"m":12,"x":9.5,"k":150,"r":195},{"m":12,"x":10,"k":180,"r":220},{"m":12,"x":10.5,"k":190,"r":235},{"m":12,"x":11,"k":193,"r":235},{"m":12,"x":11.5,"k":185,"r":225},{"m":12,"x":12,"k":180,"r":215},{"m":12,"x":12.5,"k":160,"r":190},{"m":12,"x":13,"k":130,"r":160},{"m":12,"x":13.5,"k":100,"r":125},{"m":12,"x":14,"k":70,"r":90},{"m":12,"x":14.5,"k":50,"r":65},{"m":12,"x":15,"k":35,"r":50},{"m":12,"x":15.5,"k":45,"r":55},{"m":12,"x":16,"k":57,"r":70},{"m":12,"x":16.3,"k":140,"r":150},{"m":12,"x":16.5,"k":50,"r":60},{"m":12,"x":17,"k":35,"r":45},{"m":12,"x":17.5,"k":15,"r":25},{"m":12,"x":18,"k":0,"r":10},{"m":12,"x":18.5,"k":5,"r":15},{"m":12,"x":19,"k":15,"r":25},{"m":12,"x":19.5,"k":25,"r":35},{"m":12,"x":20,"k":35,"r":45},{"m":12,"x":20.5,"k":40,"r":50},{"m":12,"x":21,"k":43,"r":55},{"m":12,"x":21.5,"k":50,"r":60},{"m":12,"x":22,"k":57,"r":65},{"m":12,"x":22.5,"k":55,"r":60},{"m":12,"x":23,"k":57,"r":60},{"m":12,"x":23.5,"k":65,"r":70},{"m":12,"x":24,"k":70,"r":75},{"m":12,"x":24.5,"k":75,"r":80},{"m":12,"x":25,"k":70,"r":75},{"m":12,"x":25.5,"k":80,"r":85},{"m":12,"x":26,"k":85,"r":90},{"m":12,"x":26.5,"k":80,"r":80},{"m":12,"x":27,"k":70,"r":65},{"m":12,"x":27.5,"k":30,"r":20},{"m":12,"x":28,"k":0,"r":-10},{"m":12,"x":28.5,"k":-20,"r":-30},{"m":12,"x":29,"k":-35,"r":-50},{"m":12,"x":29.5,"k":-50,"r":-70},{"m":12,"x":30,"k":-70,"r":-100},{"m":12,"x":30.5,"k":-55,"r":-75},{"m":12,"x":31,"k":-35,"r":-50},{"m":12,"x":31.5,"k":-30,"r":-40},{"m":12,"x":32,"k":-57,"r":-75}
]
},
"spacing": 10,
"bounds": "flush",
"vconcat": [
{"title":{"text":"Jan","orient":"right","angle":0,"anchor":"middle","align":"right","baseline":"middle","offset":11,"fontSize":13.9,"frame":"group"},"width":1119,"height":66,"layer":[
{"data":{"name":"z"},"transform":[{"filter":"datum.m==1"}],"mark":{"type":"rule","color":"#b0b0b0","strokeWidth":6},"encoding":{"x":{"field":"a","type":"quantitative","scale":{"domain":[1,32],"nice":false,"zero":false},"axis":{"values":[1,2,3,4,5,6,7,8,9,10,11,12,13,14,15,16,17,18,19,20,21,22,23,24,25,26,27,28,29,30,31,32],"tickCount":100,"labels":false}},"x2":{"field":"b"},"y":{"datum":0,"type":"quantitative","scale":{"domain":[-700,714],"nice":false,"zero":false},"axis":{"values":[-500,0,500],"tickCount":20,"format":"d","labelExpr":"datum.value<0?'\u2212'+abs(datum.value):datum.label"}}}},
{"data":{"name":"o"},"transform":[{"filter":"datum.m==1"}],"mark":{"type":"line","color":"#000000","strokeWidth":1.5},"encoding":{"x":{"field":"x","type":"quantitative"},"y":{"field":"k","type":"quantitative"}}},
{"data":{"name":"o"},"transform":[{"filter":"datum.m==1"}],"mark":{"type":"line","color":"#ff0000","strokeWidth":1.5,"strokeDash":[5.5,2.4]},"encoding":{"x":{"field":"x","type":"quantitative"},"y":{"field":"r","type":"quantitative"}}},
{"data":{"name":"g"},"transform":[{"filter":"datum.m==1"}],"mark":{"type":"line","color":"#008000","strokeWidth":1.5,"strokeDash":[5.5,2.4]},"encoding":{"x":{"field":"x","type":"quantitative"},"y":{"field":"g","type":"quantitative"}}}]},
{"title":{"text":"Feb","orient":"right","angle":0,"anchor":"middle","align":"right","baseline":"middle","offset":11,"fontSize":13.9,"frame":"group"},"width":1119,"height":66,"layer":[
{"data":{"name":"z"},"transform":[{"filter":"datum.m==2"}],"mark":{"type":"rule","color":"#b0b0b0","strokeWidth":6},"encoding":{"x":{"field":"a","type":"quantitative","scale":{"domain":[1,32],"nice":false,"zero":false},"axis":{"values":[1,2,3,4,5,6,7,8,9,10,11,12,13,14,15,16,17,18,19,20,21,22,23,24,25,26,27,28,29,30,31,32],"tickCount":100,"labels":false}},"x2":{"field":"b"},"y":{"datum":0,"type":"quantitative","scale":{"domain":[-700,714],"nice":false,"zero":false},"axis":{"values":[-500,0,500],"tickCount":20,"format":"d","labelExpr":"datum.value<0?'\u2212'+abs(datum.value):datum.label"}}}},
{"data":{"name":"o"},"transform":[{"filter":"datum.m==2"}],"mark":{"type":"line","color":"#000000","strokeWidth":1.5},"encoding":{"x":{"field":"x","type":"quantitative"},"y":{"field":"k","type":"quantitative"}}},
{"data":{"name":"o"},"transform":[{"filter":"datum.m==2"}],"mark":{"type":"line","color":"#ff0000","strokeWidth":1.5,"strokeDash":[5.5,2.4]},"encoding":{"x":{"field":"x","type":"quantitative"},"y":{"field":"r","type":"quantitative"}}},
{"data":{"name":"g"},"transform":[{"filter":"datum.m==2"}],"mark":{"type":"line","color":"#008000","strokeWidth":1.5,"strokeDash":[5.5,2.4]},"encoding":{"x":{"field":"x","type":"quantitative"},"y":{"field":"g","type":"quantitative"}}}]},
{"title":{"text":"Mar","orient":"right","angle":0,"anchor":"middle","align":"right","baseline":"middle","offset":11,"fontSize":13.9,"frame":"group"},"width":1119,"height":66,"layer":[
{"data":{"name":"z"},"transform":[{"filter":"datum.m==3"}],"mark":{"type":"rule","color":"#b0b0b0","strokeWidth":6},"encoding":{"x":{"field":"a","type":"quantitative","scale":{"domain":[1,32],"nice":false,"zero":false},"axis":{"values":[1,2,3,4,5,6,7,8,9,10,11,12,13,14,15,16,17,18,19,20,21,22,23,24,25,26,27,28,29,30,31,32],"tickCount":100,"labels":false}},"x2":{"field":"b"},"y":{"datum":0,"type":"quantitative","scale":{"domain":[-700,714],"nice":false,"zero":false},"axis":{"values":[-500,0,500],"tickCount":20,"format":"d","labelExpr":"datum.value<0?'\u2212'+abs(datum.value):datum.label"}}}},
{"data":{"name":"o"},"transform":[{"filter":"datum.m==3"}],"mark":{"type":"line","color":"#000000","strokeWidth":1.5},"encoding":{"x":{"field":"x","type":"quantitative"},"y":{"field":"k","type":"quantitative"}}},
{"data":{"name":"o"},"transform":[{"filter":"datum.m==3"}],"mark":{"type":"line","color":"#ff0000","strokeWidth":1.5,"strokeDash":[5.5,2.4]},"encoding":{"x":{"field":"x","type":"quantitative"},"y":{"field":"r","type":"quantitative"}}},
{"data":{"name":"g"},"transform":[{"filter":"datum.m==3"}],"mark":{"type":"line","color":"#008000","strokeWidth":1.5,"strokeDash":[5.5,2.4]},"encoding":{"x":{"field":"x","type":"quantitative"},"y":{"field":"g","type":"quantitative"}}}]},
{"title":{"text":"Apr","orient":"right","angle":0,"anchor":"middle","align":"right","baseline":"middle","offset":11,"fontSize":13.9,"frame":"group"},"width":1119,"height":66,"layer":[
{"data":{"name":"z"},"transform":[{"filter":"datum.m==4"}],"mark":{"type":"rule","color":"#b0b0b0","strokeWidth":6},"encoding":{"x":{"field":"a","type":"quantitative","scale":{"domain":[1,32],"nice":false,"zero":false},"axis":{"values":[1,2,3,4,5,6,7,8,9,10,11,12,13,14,15,16,17,18,19,20,21,22,23,24,25,26,27,28,29,30,31,32],"tickCount":100,"labels":false}},"x2":{"field":"b"},"y":{"datum":0,"type":"quantitative","scale":{"domain":[-700,714],"nice":false,"zero":false},"axis":{"values":[-500,0,500],"tickCount":20,"format":"d","labelExpr":"datum.value<0?'\u2212'+abs(datum.value):datum.label"}}}},
{"data":{"name":"o"},"transform":[{"filter":"datum.m==4"}],"mark":{"type":"line","color":"#000000","strokeWidth":1.5},"encoding":{"x":{"field":"x","type":"quantitative"},"y":{"field":"k","type":"quantitative"}}},
{"data":{"name":"o"},"transform":[{"filter":"datum.m==4"}],"mark":{"type":"line","color":"#ff0000","strokeWidth":1.5,"strokeDash":[5.5,2.4]},"encoding":{"x":{"field":"x","type":"quantitative"},"y":{"field":"r","type":"quantitative"}}},
{"data":{"name":"g"},"transform":[{"filter":"datum.m==4"}],"mark":{"type":"line","color":"#008000","strokeWidth":1.5,"strokeDash":[5.5,2.4]},"encoding":{"x":{"field":"x","type":"quantitative"},"y":{"field":"g","type":"quantitative"}}}]},
{"title":{"text":"May","orient":"right","angle":0,"anchor":"middle","align":"right","baseline":"middle","offset":11,"fontSize":13.9,"frame":"group"},"width":1119,"height":66,"layer":[
{"data":{"name":"z"},"transform":[{"filter":"datum.m==5"}],"mark":{"type":"rule","color":"#b0b0b0","strokeWidth":6},"encoding":{"x":{"field":"a","type":"quantitative","scale":{"domain":[1,32],"nice":false,"zero":false},"axis":{"values":[1,2,3,4,5,6,7,8,9,10,11,12,13,14,15,16,17,18,19,20,21,22,23,24,25,26,27,28,29,30,31,32],"tickCount":100,"labels":false}},"x2":{"field":"b"},"y":{"datum":0,"type":"quantitative","scale":{"domain":[-700,714],"nice":false,"zero":false},"axis":{"values":[-500,0,500],"tickCount":20,"format":"d","labelExpr":"datum.value<0?'\u2212'+abs(datum.value):datum.label"}}}},
{"data":{"name":"o"},"transform":[{"filter":"datum.m==5"}],"mark":{"type":"line","color":"#000000","strokeWidth":1.5},"encoding":{"x":{"field":"x","type":"quantitative"},"y":{"field":"k","type":"quantitative"}}},
{"data":{"name":"o"},"transform":[{"filter":"datum.m==5"}],"mark":{"type":"line","color":"#ff0000","strokeWidth":1.5,"strokeDash":[5.5,2.4]},"encoding":{"x":{"field":"x","type":"quantitative"},"y":{"field":"r","type":"quantitative"}}},
{"data":{"name":"g"},"transform":[{"filter":"datum.m==5"}],"mark":{"type":"line","color":"#008000","strokeWidth":1.5,"strokeDash":[5.5,2.4]},"encoding":{"x":{"field":"x","type":"quantitative"},"y":{"field":"g","type":"quantitative"}}}]},
{"title":{"text":"Jun","orient":"right","angle":0,"anchor":"middle","align":"right","baseline":"middle","offset":11,"fontSize":13.9,"frame":"group"},"width":1119,"height":66,"layer":[
{"data":{"name":"z"},"transform":[{"filter":"datum.m==6"}],"mark":{"type":"rule","color":"#b0b0b0","strokeWidth":6},"encoding":{"x":{"field":"a","type":"quantitative","scale":{"domain":[1,32],"nice":false,"zero":false},"axis":{"values":[1,2,3,4,5,6,7,8,9,10,11,12,13,14,15,16,17,18,19,20,21,22,23,24,25,26,27,28,29,30,31,32],"tickCount":100,"labels":false}},"x2":{"field":"b"},"y":{"datum":0,"type":"quantitative","scale":{"domain":[-700,714],"nice":false,"zero":false},"axis":{"values":[-500,0,500],"tickCount":20,"format":"d","labelExpr":"datum.value<0?'\u2212'+abs(datum.value):datum.label"}}}},
{"data":{"name":"o"},"transform":[{"filter":"datum.m==6"}],"mark":{"type":"line","color":"#000000","strokeWidth":1.5},"encoding":{"x":{"field":"x","type":"quantitative"},"y":{"field":"k","type":"quantitative"}}},
{"data":{"name":"o"},"transform":[{"filter":"datum.m==6"}],"mark":{"type":"line","color":"#ff0000","strokeWidth":1.5,"strokeDash":[5.5,2.4]},"encoding":{"x":{"field":"x","type":"quantitative"},"y":{"field":"r","type":"quantitative"}}},
{"data":{"name":"g"},"transform":[{"filter":"datum.m==6"}],"mark":{"type":"line","color":"#008000","strokeWidth":1.5,"strokeDash":[5.5,2.4]},"encoding":{"x":{"field":"x","type":"quantitative"},"y":{"field":"g","type":"quantitative"}}}]},
{"title":{"text":"Jul","orient":"right","angle":0,"anchor":"middle","align":"right","baseline":"middle","offset":11,"fontSize":13.9,"frame":"group"},"width":1119,"height":66,"layer":[
{"data":{"name":"z"},"transform":[{"filter":"datum.m==7"}],"mark":{"type":"rule","color":"#b0b0b0","strokeWidth":6},"encoding":{"x":{"field":"a","type":"quantitative","scale":{"domain":[1,32],"nice":false,"zero":false},"axis":{"values":[1,2,3,4,5,6,7,8,9,10,11,12,13,14,15,16,17,18,19,20,21,22,23,24,25,26,27,28,29,30,31,32],"tickCount":100,"labels":false}},"x2":{"field":"b"},"y":{"datum":0,"type":"quantitative","scale":{"domain":[-700,714],"nice":false,"zero":false},"axis":{"values":[-500,0,500],"tickCount":20,"format":"d","labelExpr":"datum.value<0?'\u2212'+abs(datum.value):datum.label"}}}},
{"data":{"name":"o"},"transform":[{"filter":"datum.m==7"}],"mark":{"type":"line","color":"#000000","strokeWidth":1.5},"encoding":{"x":{"field":"x","type":"quantitative"},"y":{"field":"k","type":"quantitative"}}},
{"data":{"name":"o"},"transform":[{"filter":"datum.m==7"}],"mark":{"type":"line","color":"#ff0000","strokeWidth":1.5,"strokeDash":[5.5,2.4]},"encoding":{"x":{"field":"x","type":"quantitative"},"y":{"field":"r","type":"quantitative"}}},
{"data":{"name":"g"},"transform":[{"filter":"datum.m==7"}],"mark":{"type":"line","color":"#008000","strokeWidth":1.5,"strokeDash":[5.5,2.4]},"encoding":{"x":{"field":"x","type":"quantitative"},"y":{"field":"g","type":"quantitative"}}}]},
{"title":{"text":"Aug","orient":"right","angle":0,"anchor":"middle","align":"right","baseline":"middle","offset":11,"fontSize":13.9,"frame":"group"},"width":1119,"height":66,"layer":[
{"data":{"name":"z"},"transform":[{"filter":"datum.m==8"}],"mark":{"type":"rule","color":"#b0b0b0","strokeWidth":6},"encoding":{"x":{"field":"a","type":"quantitative","scale":{"domain":[1,32],"nice":false,"zero":false},"axis":{"values":[1,2,3,4,5,6,7,8,9,10,11,12,13,14,15,16,17,18,19,20,21,22,23,24,25,26,27,28,29,30,31,32],"tickCount":100,"labels":false}},"x2":{"field":"b"},"y":{"datum":0,"type":"quantitative","scale":{"domain":[-700,714],"nice":false,"zero":false},"axis":{"values":[-500,0,500],"tickCount":20,"format":"d","labelExpr":"datum.value<0?'\u2212'+abs(datum.value):datum.label"}}}},
{"data":{"name":"o"},"transform":[{"filter":"datum.m==8"}],"mark":{"type":"line","color":"#000000","strokeWidth":1.5},"encoding":{"x":{"field":"x","type":"quantitative"},"y":{"field":"k","type":"quantitative"}}},
{"data":{"name":"o"},"transform":[{"filter":"datum.m==8"}],"mark":{"type":"line","color":"#ff0000","strokeWidth":1.5,"strokeDash":[5.5,2.4]},"encoding":{"x":{"field":"x","type":"quantitative"},"y":{"field":"r","type":"quantitative"}}},
{"data":{"name":"g"},"transform":[{"filter":"datum.m==8"}],"mark":{"type":"line","color":"#008000","strokeWidth":1.5,"strokeDash":[5.5,2.4]},"encoding":{"x":{"field":"x","type":"quantitative"},"y":{"field":"g","type":"quantitative"}}}]},
{"title":{"text":"Sep","orient":"right","angle":0,"anchor":"middle","align":"right","baseline":"middle","offset":11,"fontSize":13.9,"frame":"group"},"width":1119,"height":66,"layer":[
{"data":{"name":"z"},"transform":[{"filter":"datum.m==9"}],"mark":{"type":"rule","color":"#b0b0b0","strokeWidth":6},"encoding":{"x":{"field":"a","type":"quantitative","scale":{"domain":[1,32],"nice":false,"zero":false},"axis":{"values":[1,2,3,4,5,6,7,8,9,10,11,12,13,14,15,16,17,18,19,20,21,22,23,24,25,26,27,28,29,30,31,32],"tickCount":100,"labels":false}},"x2":{"field":"b"},"y":{"datum":0,"type":"quantitative","scale":{"domain":[-700,714],"nice":false,"zero":false},"axis":{"values":[-500,0,500],"tickCount":20,"format":"d","labelExpr":"datum.value<0?'\u2212'+abs(datum.value):datum.label"}}}},
{"data":{"name":"o"},"transform":[{"filter":"datum.m==9"}],"mark":{"type":"line","color":"#000000","strokeWidth":1.5},"encoding":{"x":{"field":"x","type":"quantitative"},"y":{"field":"k","type":"quantitative"}}},
{"data":{"name":"o"},"transform":[{"filter":"datum.m==9"}],"mark":{"type":"line","color":"#ff0000","strokeWidth":1.5,"strokeDash":[5.5,2.4]},"encoding":{"x":{"field":"x","type":"quantitative"},"y":{"field":"r","type":"quantitative"}}},
{"data":{"name":"g"},"transform":[{"filter":"datum.m==9"}],"mark":{"type":"line","color":"#008000","strokeWidth":1.5,"strokeDash":[5.5,2.4]},"encoding":{"x":{"field":"x","type":"quantitative"},"y":{"field":"g","type":"quantitative"}}}]},
{"title":{"text":"Oct","orient":"right","angle":0,"anchor":"middle","align":"right","baseline":"middle","offset":11,"fontSize":13.9,"frame":"group"},"width":1119,"height":66,"layer":[
{"data":{"name":"z"},"transform":[{"filter":"datum.m==10"}],"mark":{"type":"rule","color":"#b0b0b0","strokeWidth":6},"encoding":{"x":{"field":"a","type":"quantitative","scale":{"domain":[1,32],"nice":false,"zero":false},"axis":{"values":[1,2,3,4,5,6,7,8,9,10,11,12,13,14,15,16,17,18,19,20,21,22,23,24,25,26,27,28,29,30,31,32],"tickCount":100,"labels":false}},"x2":{"field":"b"},"y":{"datum":0,"type":"quantitative","scale":{"domain":[-700,714],"nice":false,"zero":false},"axis":{"values":[-500,0,500],"tickCount":20,"format":"d","labelExpr":"datum.value<0?'\u2212'+abs(datum.value):datum.label"}}}},
{"data":{"name":"o"},"transform":[{"filter":"datum.m==10"}],"mark":{"type":"line","color":"#000000","strokeWidth":1.5},"encoding":{"x":{"field":"x","type":"quantitative"},"y":{"field":"k","type":"quantitative"}}},
{"data":{"name":"o"},"transform":[{"filter":"datum.m==10"}],"mark":{"type":"line","color":"#ff0000","strokeWidth":1.5,"strokeDash":[5.5,2.4]},"encoding":{"x":{"field":"x","type":"quantitative"},"y":{"field":"r","type":"quantitative"}}},
{"data":{"name":"g"},"transform":[{"filter":"datum.m==10"}],"mark":{"type":"line","color":"#008000","strokeWidth":1.5,"strokeDash":[5.5,2.4]},"encoding":{"x":{"field":"x","type":"quantitative"},"y":{"field":"g","type":"quantitative"}}}]},
{"title":{"text":"Nov","orient":"right","angle":0,"anchor":"middle","align":"right","baseline":"middle","offset":11,"fontSize":13.9,"frame":"group"},"width":1119,"height":66,"layer":[
{"data":{"name":"z"},"transform":[{"filter":"datum.m==11"}],"mark":{"type":"rule","color":"#b0b0b0","strokeWidth":6},"encoding":{"x":{"field":"a","type":"quantitative","scale":{"domain":[1,32],"nice":false,"zero":false},"axis":{"values":[1,2,3,4,5,6,7,8,9,10,11,12,13,14,15,16,17,18,19,20,21,22,23,24,25,26,27,28,29,30,31,32],"tickCount":100,"labels":false}},"x2":{"field":"b"},"y":{"datum":0,"type":"quantitative","scale":{"domain":[-700,714],"nice":false,"zero":false},"axis":{"values":[-500,0,500],"tickCount":20,"format":"d","labelExpr":"datum.value<0?'\u2212'+abs(datum.value):datum.label"}}}},
{"data":{"name":"o"},"transform":[{"filter":"datum.m==11"}],"mark":{"type":"line","color":"#000000","strokeWidth":1.5},"encoding":{"x":{"field":"x","type":"quantitative"},"y":{"field":"k","type":"quantitative"}}},
{"data":{"name":"o"},"transform":[{"filter":"datum.m==11"}],"mark":{"type":"line","color":"#ff0000","strokeWidth":1.5,"strokeDash":[5.5,2.4]},"encoding":{"x":{"field":"x","type":"quantitative"},"y":{"field":"r","type":"quantitative"}}},
{"data":{"name":"g"},"transform":[{"filter":"datum.m==11"}],"mark":{"type":"line","color":"#008000","strokeWidth":1.5,"strokeDash":[5.5,2.4]},"encoding":{"x":{"field":"x","type":"quantitative"},"y":{"field":"g","type":"quantitative"}}}]},
{"title":{"text":"Dec","orient":"right","angle":0,"anchor":"middle","align":"right","baseline":"middle","offset":11,"fontSize":13.9,"frame":"group"},"width":1119,"height":66,"layer":[
{"data":{"name":"z"},"transform":[{"filter":"datum.m==12"}],"mark":{"type":"rule","color":"#b0b0b0","strokeWidth":6},"encoding":{"x":{"field":"a","type":"quantitative","scale":{"domain":[1,32],"nice":false,"zero":false},"axis":{"values":[1,2,3,4,5,6,7,8,9,10,11,12,13,14,15,16,17,18,19,20,21,22,23,24,25,26,27,28,29,30,31,32],"tickCount":100,"format":"d","labels":true,"labelExpr":"datum.value==32?'':datum.label"}},"x2":{"field":"b"},"y":{"datum":0,"type":"quantitative","scale":{"domain":[-700,714],"nice":false,"zero":false},"axis":{"values":[-500,0,500],"tickCount":20,"format":"d","labelExpr":"datum.value<0?'\u2212'+abs(datum.value):datum.label"}}}},
{"data":{"name":"o"},"transform":[{"filter":"datum.m==12"}],"mark":{"type":"line","color":"#000000","strokeWidth":1.5},"encoding":{"x":{"field":"x","type":"quantitative"},"y":{"field":"k","type":"quantitative"}}},
{"data":{"name":"o"},"transform":[{"filter":"datum.m==12"}],"mark":{"type":"line","color":"#ff0000","strokeWidth":1.5,"strokeDash":[5.5,2.4]},"encoding":{"x":{"field":"x","type":"quantitative"},"y":{"field":"r","type":"quantitative"}}},
{"data":{"name":"g"},"transform":[{"filter":"datum.m==12"}],"mark":{"type":"line","color":"#008000","strokeWidth":1.5,"strokeDash":[5.5,2.4]},"encoding":{"x":{"field":"x","type":"quantitative"},"y":{"field":"g","type":"quantitative"}}}]}
]
}
